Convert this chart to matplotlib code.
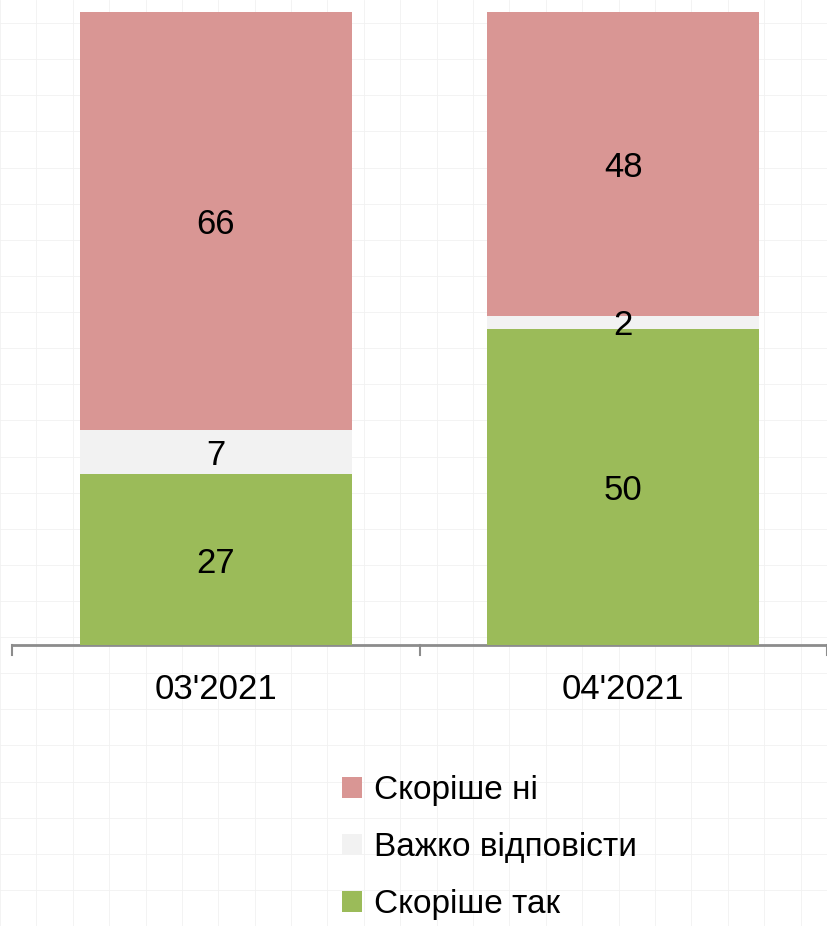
import matplotlib.pyplot as plt
import numpy as np
from matplotlib.lines import Line2D

plt.rcParams["font.family"] = ["Liberation Sans Narrow", "Liberation Sans", "DejaVu Sans"]

# survey waves and answer shares (%)
periods = ["03'2021", "04'2021"]
yes_vals = [27, 50]
hard_vals = [7, 2]
no_vals = [66, 48]

series = [
    ("Скоріше так", yes_vals, "#9BBB59"),
    ("Важко відповісти", hard_vals, "#F2F2F2"),
    ("Скоріше ні", no_vals, "#D99694"),
]

fig = plt.figure(figsize=(8.27, 9.26), dpi=100)

# faint paper-like grid behind everything
for gx in np.arange(0.0, 1.0, 0.044):
    fig.add_artist(Line2D([gx, gx], [0, 1], color="#f1f1f1", lw=0.6, zorder=-5))
for gy in np.arange(0.0, 1.0, 0.039):
    fig.add_artist(Line2D([0, 1], [gy, gy], color="#f1f1f1", lw=0.6, zorder=-5))

ax = fig.add_axes([12 / 827, 1 - 645 / 926, 1 - 12 / 827, (645 - 12) / 926])
ax.patch.set_alpha(0)

x = np.arange(len(periods))
bottom = np.zeros(len(periods))
handles = []
for label, vals, color in series:
    bars = ax.bar(x, vals, width=0.667, bottom=bottom, color=color, label=label, zorder=3)
    for xi, b, v in zip(x, bottom, vals):
        ax.text(xi, b + v / 2, f"{v}", ha="center", va="center_baseline",
                fontsize=25, zorder=4)
    handles.append(bars)
    bottom += np.array(vals)

ax.set_xlim(-0.5, 1.5)
ax.set_ylim(0, 100)
ax.set_xticks(x)
ax.set_xticklabels(periods, fontsize=25)
ax.tick_params(axis="x", length=0, pad=20)
ax.set_yticks([])
for s in ["top", "right", "left"]:
    ax.spines[s].set_visible(False)
ax.spines["bottom"].set_color("#8c8c8c")
ax.spines["bottom"].set_linewidth(2)

# category separators on the axis
for bx in [-0.5, 0.5, 1.5]:
    ax.plot([bx, bx], [0, -1.6], color="#8c8c8c", lw=1.5, clip_on=False, zorder=3)

fig.legend(handles[::-1], [s[0] for s in series][::-1],
           loc="upper left", bbox_to_anchor=(0.414, 0.163), frameon=False,
           fontsize=24, handlelength=0.6, handleheight=0.6, handletextpad=0.35,
           labelspacing=0.78, borderpad=0, borderaxespad=0)

fig.savefig("out.png", dpi=100)
